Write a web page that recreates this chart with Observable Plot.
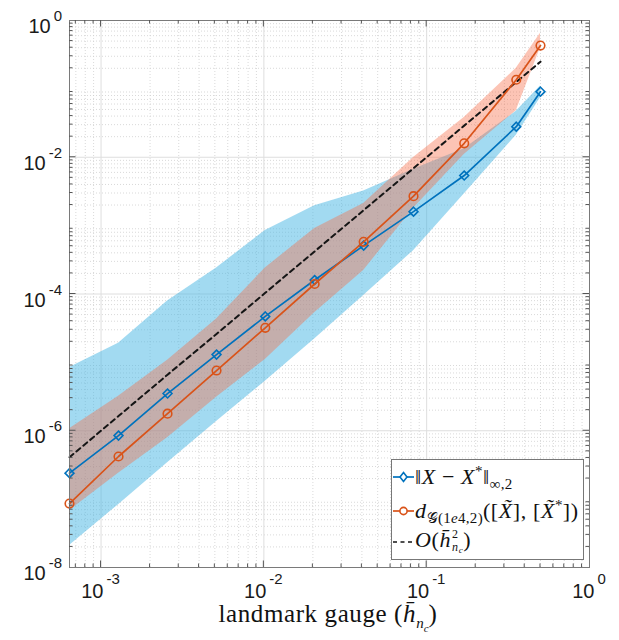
<!DOCTYPE html>
<html><head><meta charset="utf-8">
<script src="https://cdn.jsdelivr.net/npm/d3@7"></script>
<script src="https://cdn.jsdelivr.net/npm/@observablehq/plot@0.6"></script>
<style>
body{margin:0;background:#fff;}
#wrap{position:relative;width:619px;height:640px;overflow:hidden;}
#wrap > svg{position:absolute;left:0;top:0;}
.math{font-family:"Liberation Serif","DejaVu Serif",serif;color:#111;white-space:nowrap;}
#legend{position:absolute;left:391px;top:459px;width:193px;height:101px;border:1px solid #777;background:#fff;box-sizing:border-box;}
.lrow{position:absolute;left:0;height:30px;display:flex;align-items:center;}
#legend .lrow svg{position:static;display:block;flex:none;}
.ltxt{font-size:22px;line-height:1;letter-spacing:0.6px;}
.ltxt sub,.ltxt sup{font-size:15px;line-height:0;letter-spacing:0.3px;}
.stack{display:inline-flex;flex-direction:column;vertical-align:middle;font-size:12px;line-height:1.1;margin-left:1px;}
.stack > span{display:block;}
#xlabel{position:absolute;left:0;width:619px;top:600px;text-align:center;font-size:25px;letter-spacing:0.6px;padding-left:37px;box-sizing:border-box;}
</style></head><body>
<div id="wrap"></div>
<script>
// landmark gauge (x values)
const gauge   = [6.4e-4, 1.28e-3, 2.56e-3, 5.12e-3, 1.02e-2, 2.05e-2, 4.1e-2, 8.3e-2, 0.17, 0.355, 0.5];
// ||X - X*||_{inf,2}: mean and band
const errInf   = [2.4e-7, 8.5e-7, 3.5e-6, 1.3e-5, 4.7e-5, 1.6e-4, 5.1e-4, 1.6e-3, 5.4e-3, 0.028, 0.091];
const errInfLo = [2.1e-8, 8.3e-8, 3.4e-7, 1.36e-6, 5.3e-6, 2.2e-5, 9.5e-5, 4.3e-4, 2.9e-3, 0.021, 0.074];
const errInfHi = [8.4e-6, 1.9e-5, 7.9e-5, 2.4e-4, 8.5e-4, 1.95e-3, 3.2e-3, 6.7e-3, 0.0133, 0.047, 0.11];
// d_G(1e4,2)([X~],[X~*]): mean and band
const errG   = [8.6e-8, 4.2e-7, 1.78e-6, 7.6e-6, 3.2e-5, 1.4e-4, 5.8e-4, 2.7e-3, 0.016, 0.136, 0.43];
const errGLo = [6.8e-8, 2.4e-7, 7.9e-7, 3.1e-6, 1.1e-5, 5.3e-5, 2.2e-4, 1.8e-3, 0.011, 0.048, 0.4];
const errGHi = [1.07e-6, 3.2e-6, 1.07e-5, 4.3e-5, 2.4e-4, 9.1e-4, 2.1e-3, 9.9e-3, 0.038, 0.2, 0.65];
// O(h^2) reference line
const refO2 = [4.1e-7, 1.64e-6, 6.6e-6, 2.6e-5, 1.04e-4, 4.2e-4, 1.68e-3, 6.9e-3, 0.029, 0.126, 0.25];
// tick labels (exponents)
const xTickExp = [-3, -2, -1, 0];
const yTickExp = [-8, -6, -4, -2, 0];

const rows = gauge.map((h, i) => ({h, bm: errInf[i], bl: errInfLo[i], bh: errInfHi[i],
  rm: errG[i], rl: errGLo[i], rh: errGHi[i], ref: refO2[i]}));

const minorOf = (d0, d1) => { const a = []; for (let d = d0; d <= d1; d++) for (let k = 2; k <= 9; k++) a.push(k * Math.pow(10, d)); return a; };
const xMinor = minorOf(-4, -1).filter(v => v > gauge[0] && v < 1);
const yMinor = minorOf(-8, -1);
const xMajor = [1e-3, 1e-2, 1e-1];
const yMajor = [1e-6, 1e-4, 1e-2];

const blue = "#0072BD", red = "#D95319";

const chart = Plot.plot({
  width: 619, height: 640,
  marginLeft: 69, marginRight: 30, marginTop: 20, marginBottom: 73,
  x: {type: "log", domain: [gauge[0], 1], axis: null},
  y: {type: "log", domain: [1e-8, 1], axis: null},
  style: {background: "white", overflow: "visible"},
  marks: [
    Plot.ruleX(xMinor, {stroke: "#cfcfcf", strokeWidth: 0.8, strokeDasharray: "1,2"}),
    Plot.ruleY(yMinor, {stroke: "#cfcfcf", strokeWidth: 0.8, strokeDasharray: "1,2"}),
    Plot.ruleX(xMajor, {stroke: "#dedede", strokeWidth: 1}),
    Plot.ruleY(yMajor, {stroke: "#dedede", strokeWidth: 1}),
    Plot.areaY(rows, {x: "h", y1: "bl", y2: "bh", fill: "#45b5e3", fillOpacity: 0.5}),
    Plot.areaY(rows, {x: "h", y1: "rl", y2: "rh", fill: "rgb(248,108,70)", fillOpacity: 0.4}),
    Plot.line(rows, {x: "h", y: "ref", stroke: "#151515", strokeWidth: 2, strokeDasharray: "5,4"}),
    Plot.line(rows, {x: "h", y: "bm", stroke: blue, strokeWidth: 1.7}),
    Plot.dot(rows, {x: "h", y: "bm", symbol: "diamond2", r: 4, stroke: blue, fill: "none", strokeWidth: 1.6}),
    Plot.line(rows, {x: "h", y: "rm", stroke: red, strokeWidth: 1.7}),
    Plot.dot(rows, {x: "h", y: "rm", symbol: "circle", r: 4.3, stroke: red, fill: "none", strokeWidth: 1.6}),
    Plot.frame({stroke: "#7a7a7a", strokeWidth: 1})
  ]
});

document.getElementById("wrap").appendChild(chart);

// inward ticks on all four sides + tick labels, positioned via the Plot scales
const sx = chart.scale("x"), sy = chart.scale("y");
const svg = d3.select(chart);
const X0 = sx.apply(gauge[0]), X1 = sx.apply(1), Y0 = sy.apply(1e-8), Y1 = sy.apply(1);
const g = svg.append("g").attr("stroke", "#555").attr("stroke-width", 1);
const allX = [...xMinor.map(v => [v, 3.5]), ...xMajor.map(v => [v, 6.5])];
for (const [v, len] of allX) {
  const px = sx.apply(v);
  g.append("line").attr("x1", px).attr("x2", px).attr("y1", Y0).attr("y2", Y0 - len);
  g.append("line").attr("x1", px).attr("x2", px).attr("y1", Y1).attr("y2", Y1 + len);
}
const allY = [...yMinor.map(v => [v, 3.5]), ...yMajor.map(v => [v, 6.5])];
for (const [v, len] of allY) {
  const py = sy.apply(v);
  g.append("line").attr("y1", py).attr("y2", py).attr("x1", X0).attr("x2", X0 + len);
  g.append("line").attr("y1", py).attr("y2", py).attr("x1", X1).attr("x2", X1 - len);
}

const lab = svg.append("g").attr("font-family", "'Liberation Sans', Arial, Helvetica, sans-serif").attr("fill", "#1a1a1a");
for (const e of xTickExp) {
  const px = sx.apply(Math.pow(10, e));
  const t = lab.append("text").attr("x", px).attr("y", 598).attr("text-anchor", "middle");
  t.append("tspan").attr("font-size", 20).text("10");
  t.append("tspan").attr("font-size", 15).attr("dx", 3).attr("dy", -14).text(String(e));
}
for (const e of yTickExp) {
  const py = sy.apply(Math.pow(10, e));
  const t = lab.append("text").attr("x", 62).attr("y", py + 13).attr("text-anchor", "end");
  t.append("tspan").attr("font-size", 20).text("10");
  t.append("tspan").attr("font-size", 15).attr("dx", 3).attr("dy", -12).text(String(e));
}

// x-axis label
const xl = document.createElement("div");
xl.id = "xlabel"; xl.className = "math";
xl.innerHTML = 'landmark gauge (<i>h\u0304</i><sub style="font-size:15px;letter-spacing:0"><i>n</i><sub style="font-size:11px"><i>c</i></sub></sub>)';
document.getElementById("wrap").appendChild(xl);

// legend
const lg = document.createElement("div");
lg.id = "legend";
lg.innerHTML = `
<div class="lrow" style="top:2px">
  <svg width="23" height="20"><line x1="1" x2="22" y1="10" y2="10" stroke="${blue}" stroke-width="1.7"/>
  <path d="M11.5,5.5L15,10L11.5,14.5L8,10Z" fill="white" stroke="${blue}" stroke-width="1.6"/></svg>
  <span class="math ltxt">&#8214;<i>X</i> &#8722; <i>X</i><sup>*</sup>&#8214;<sub>&#8734;,2</sub></span>
</div>
<div class="lrow" style="top:36px">
  <svg width="23" height="20"><line x1="1" x2="22" y1="10" y2="10" stroke="${red}" stroke-width="1.7"/>
  <circle cx="11.5" cy="10" r="3.6" fill="white" stroke="${red}" stroke-width="1.6"/></svg>
  <span class="math ltxt"><i>d</i><sub>&#x1D4A2;(1<i>e</i>4,2)</sub>([<i>X&#771;</i>], [<i>X&#771;</i><sup>*</sup>])</span>
</div>
<div class="lrow" style="top:67px">
  <svg width="23" height="20"><line x1="1" x2="22" y1="10" y2="10" stroke="#151515" stroke-width="1.7" stroke-dasharray="4,3.5"/></svg>
  <span class="math ltxt"><i>O</i>(<i>h&#772;</i><span class="stack"><span>2</span><span><i>n</i><i style="font-size:9px;vertical-align:-2px">c</i></span></span>)</span>
</div>`;
document.getElementById("wrap").appendChild(lg);
</script>
</body></html>
